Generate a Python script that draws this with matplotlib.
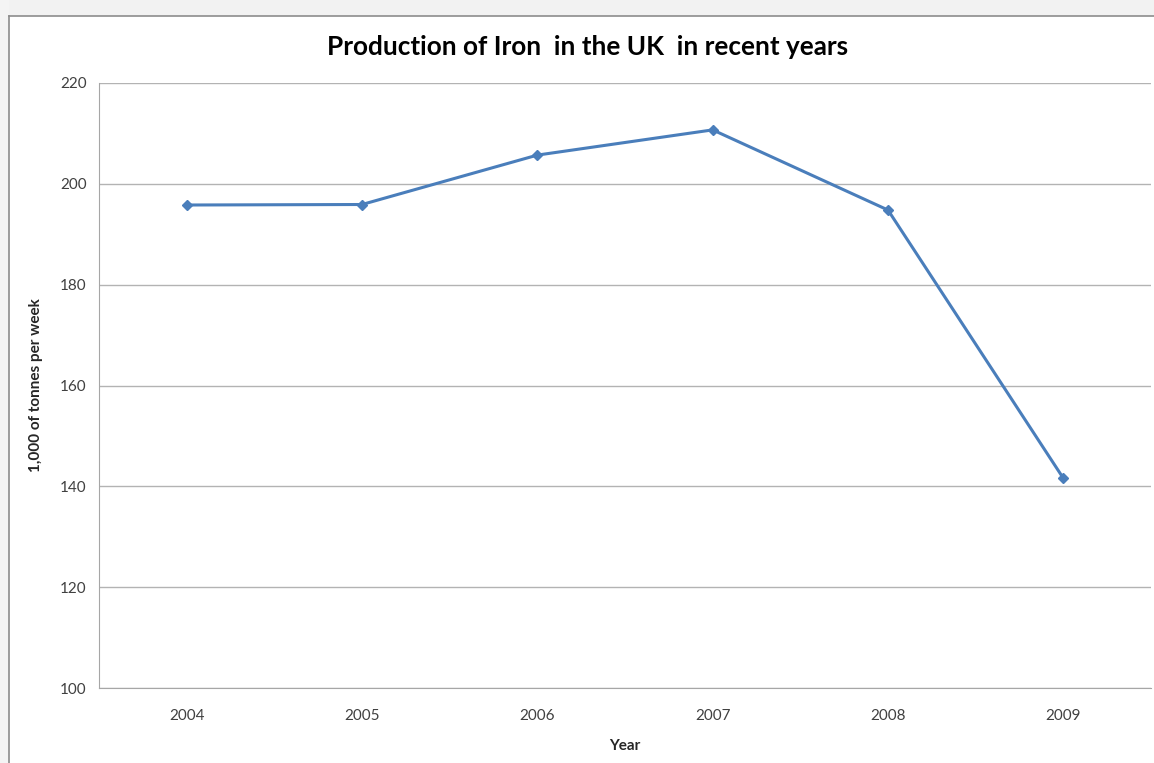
import matplotlib
matplotlib.use("Agg")
import matplotlib.pyplot as plt
from matplotlib.patches import Rectangle

years = ["2004", "2005", "2006", "2007", "2008", "2009"]
production = [195.8, 195.9, 205.7, 210.7, 194.8, 141.6]
yticks = [100, 120, 140, 160, 180, 200, 220]

plt.rcParams['font.family'] = ['Lato', 'DejaVu Sans']

fig = plt.figure(figsize=(11.54, 7.63), dpi=100)
fig.patch.set_facecolor('white')

# light grey band at top and left (screenshot frame)
fig.patches.append(Rectangle((0, 1 - 16/763), 1, 16/763, transform=fig.transFigure,
                             facecolor='#f2f2f2', edgecolor='none', zorder=0))
fig.patches.append(Rectangle((0, 0), 9/1154, 1, transform=fig.transFigure,
                             facecolor='#f4f4f4', edgecolor='none', zorder=0))
# chart border lines
fig.add_artist(plt.Line2D([9/1154, 1], [1 - 16/763, 1 - 16/763], transform=fig.transFigure,
                          color='#8c8c8c', lw=1.2))
fig.add_artist(plt.Line2D([9/1154, 9/1154], [0, 1 - 16/763], transform=fig.transFigure,
                          color='#8c8c8c', lw=1.2))

ax = fig.add_axes([99/1154, 1 - 688/763, (1151 - 99)/1154, (688 - 83)/763])
x = list(range(len(years)))
ax.plot(x, production, color='#4A7EBB', lw=2.2, marker='D', markersize=5.5,
        markerfacecolor='#4A7EBB', markeredgecolor='#4A7EBB', zorder=3)

ax.set_xlim(-0.5, len(years) - 0.5)
ax.set_ylim(100, 220)
ax.set_yticks(yticks)
ax.set_xticks(x)
ax.set_xticklabels(years)
ax.yaxis.grid(True, color='#b3b3b3', lw=1.0)
ax.set_axisbelow(True)
for s in ['top', 'right']:
    ax.spines[s].set_visible(False)
ax.spines['left'].set_color('#a6a6a6')
ax.spines['bottom'].set_color('#a6a6a6')
ax.tick_params(axis='both', length=0, labelsize=11, colors='#404040')
ax.tick_params(axis='y', pad=9)
ax.tick_params(axis='x', pad=15)

ax.set_xlabel('Year', fontsize=11, fontweight='bold', color='#262626', labelpad=12)
ax.set_ylabel('1,000 of tonnes per week', fontsize=11, fontweight='bold', color='#262626', labelpad=12)

fig.text(588/1154, 1 - 47/763, 'Production of Iron  in the UK  in recent years', ha='center', va='center',
         fontsize=18.8, fontweight='bold', color='black')

fig.savefig('out.png', dpi=100)
